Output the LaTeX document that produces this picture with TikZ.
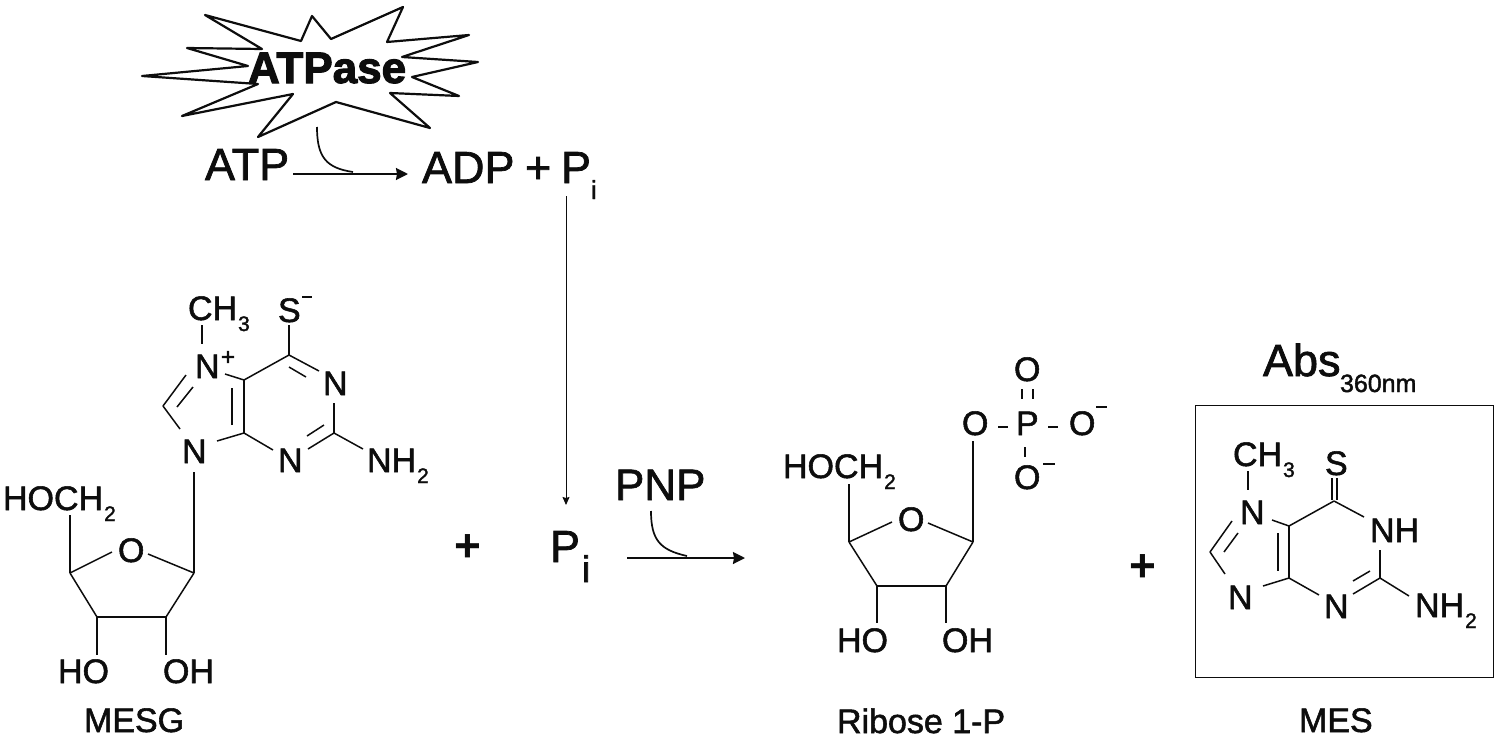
\documentclass[tikz,border=0pt]{standalone}
\usepackage{fontspec}
\usetikzlibrary{arrows.meta}
\setmainfont{Liberation Sans}[UprightFeatures={FakeBold=1.6}]
\newfontfamily\heavyfont{Liberation Sans}[BoldFeatures={FakeBold=2.5}]
\definecolor{ink}{HTML}{0D0D0D}
\newcommand{\sbs}[2][-11pt]{\kern1pt\raisebox{#1}{\fontsize{21}{21}\selectfont #2}}
\tikzset{
  lbl/.style={anchor=base west,inner sep=0pt,outer sep=0pt,text=ink},
  atom/.style={lbl,font=\fontsize{34}{34}\selectfont},
  big/.style={lbl,font=\fontsize{45}{45}\selectfont},
  bond/.style={draw=ink,line width=1.5pt},
  rxn/.style={draw=ink,line width=1.9pt,-{Stealth[length=12pt,width=12pt,inset=1pt]}},
  thinrxn/.style={draw=ink,line width=1pt,-{Stealth[length=8pt,width=7pt,inset=1pt]}},
  enz/.style={draw=ink,line width=1.7pt},
  neg/.style={draw=ink,line width=2pt},
  plussign/.style={lbl,anchor=center,font=\fontsize{46}{46}\selectfont\bfseries},
}
\begin{document}
\begin{tikzpicture}[x=1pt,y=-1pt]
\useasboundingbox (0,0) rectangle (1500,739);
% ---------- ATPase burst
\draw[draw=ink,fill=white,line width=2.2pt,line join=round]
  (205,15)--(301,41)--(312,16)--(331,39)--(403,7)--(387,42)--(469,35)--(402,57)--(478,62)
  --(412,77)--(459,96)--(390,93)--(430,128)--(336,102)--(258,137)--(293,94)--(182,116)
  --(258,84)--(142,76)--(248,66)--(187,48)--(262,49)--cycle;
\node[lbl,font=\fontsize{44}{44}\heavyfont\bfseries] (atpase) at (248,83) {ATPase};
% ---------- top reaction
\node[big] (atp) at (205,180) {ATP};
\node[big] (adp) at (422,183) {ADP};
\node[big] (plus0) at (525,183) {+};
\node[big] (pia) at (561,183) {P};
\node[lbl,font=\fontsize{26}{26}\selectfont] (pias) at (591,199) {i};
\coordinate (atpR) at (293,174);
\coordinate (adpL) at (408,174);
\coordinate (atpCa) at (317,127);
\coordinate (atpCb) at (353,172);
\draw[rxn] (atpR) -- (adpL);
\draw[enz] (atpCa) .. controls (317,157) and (326,168) .. (atpCb);
\coordinate (pidown) at (566,196);
\coordinate (piup) at (566,505);
\draw[thinrxn] (pidown) -- (piup);
% ---------- lower reaction
\node[big] (pib) at (550,562) {P};
\node[lbl,font=\fontsize{37}{37}\selectfont] (pibs) at (582,582) {i};
\node[lbl,font=\fontsize{44}{44}\selectfont] (pnp) at (615,500) {PNP};
\coordinate (rxnL) at (627,558);
\coordinate (rxnR) at (745,558);
\coordinate (pnpA) at (651,511);
\coordinate (pnpB) at (687,556);
\draw[rxn] (rxnL) -- (rxnR);
\draw[enz] (pnpA) .. controls (651,540) and (660,550) .. (pnpB);
\node[plussign] (plusa) at (468,548) {+};
\node[plussign] (plusb) at (1143,568) {+};
% ---------- MESG
\node[atom] (mch) at (188,320) {CH\sbs{3}};
\node[atom] (ms) at (278,322) {S};
\coordinate (msmA) at (302,297);\coordinate (msmB) at (312,297);
\draw[neg] (msmA)--(msmB);
\node[atom] (mn7) at (195,378) {N};
\node[lbl,font=\fontsize{24}{24}\selectfont] (mplus) at (221,365) {+};
\node[atom] (mn1) at (323,395) {N};
\node[atom] (mn3) at (278,472) {N};
\node[atom] (mn9) at (182,463) {N};
\node[atom] (mnh) at (367,472) {NH\sbs{2}};
\node[atom] (mho) at (3,510) {HOCH\sbs{2}};
\node[atom] (mo) at (118,562) {O};
\node[atom] (mhoa) at (58,683) {HO};
\node[atom] (moh) at (163,683) {OH};
\node[atom] (mesg) at (84,732) {MESG};
\coordinate (a1) at (202,325);\coordinate (a2) at (202,344);
\coordinate (a3) at (289,325);\coordinate (a4) at (289,355);
\coordinate (a5) at (319,371);\coordinate (a6) at (289,367);\coordinate (a7) at (306,377);
\coordinate (a8) at (334,403);\coordinate (a9) at (334,433);
\coordinate (a10) at (308,449);\coordinate (a11) at (324,425);\coordinate (a12) at (307,436);
\coordinate (a13) at (273,450);\coordinate (a14) at (244,433);\coordinate (a15) at (244,380);
\coordinate (a16) at (232,425);\coordinate (a17) at (232,388);
\coordinate (a18) at (225,374);\coordinate (a19) at (186,375);\coordinate (a20) at (163,406);
\coordinate (a21) at (193,387);\coordinate (a22) at (177,407);\coordinate (a23) at (180,429);
\coordinate (a24) at (217,441);\coordinate (a25) at (194,472);\coordinate (a26) at (194,573);
\coordinate (a27) at (363,449);
\coordinate (a28) at (70,573);\coordinate (a29) at (70,515);\coordinate (a30) at (112,552);
\coordinate (a31) at (148,554);\coordinate (a32) at (166,617);\coordinate (a33) at (97,617);
\coordinate (a34) at (97,655);\coordinate (a35) at (166,655);
\draw[bond] (a1)--(a2);
\draw[bond] (a3)--(a4);
\draw[bond] (a4)--(a5);
\draw[bond] (a6)--(a7);
\draw[bond] (a8)--(a9);
\draw[bond] (a9)--(a10);
\draw[bond] (a11)--(a12);
\draw[bond] (a13)--(a14);
\draw[bond] (a14)--(a15);
\draw[bond] (a16)--(a17);
\draw[bond] (a15)--(a4);
\draw[bond] (a15)--(a18);
\draw[bond] (a19)--(a20);
\draw[bond] (a21)--(a22);
\draw[bond] (a20)--(a23);
\draw[bond] (a24)--(a14);
\draw[bond] (a25)--(a26);
\draw[bond] (a9)--(a27);
\draw[bond] (a28)--(a29);
\draw[bond] (a28)--(a30);
\draw[bond] (a31)--(a26);
\draw[bond] (a26)--(a32);
\draw[bond] (a32)--(a33);
\draw[bond] (a33)--(a28);
\draw[bond] (a33)--(a34);
\draw[bond] (a32)--(a35);
% ---------- Ribose 1-P
\node[atom] (ro1) at (1014,381) {O};
\node[atom] (rp) at (1016,435) {P};
\node[atom] (ro2) at (962,435) {O};
\node[atom] (ro3) at (1069,435) {O};
\node[atom] (ro4) at (1014,489) {O};
\node[atom] (rho) at (783,478) {HOCH\sbs{2}};
\node[atom] (rox) at (898,531) {O};
\node[atom] (rhoa) at (837,652) {HO};
\node[atom] (roh) at (942,652) {OH};
\node[atom] (rib) at (837,733) {Ribose 1-P};
\coordinate (b1) at (1022,389);\coordinate (b2) at (1022,399);
\coordinate (b3) at (1033,389);\coordinate (b4) at (1033,399);
\coordinate (b5) at (998,427);\coordinate (b6) at (1008,427);
\coordinate (b7) at (1048,427);\coordinate (b8) at (1058,427);
\coordinate (b9) at (1025,447);\coordinate (b10) at (1025,457);
\coordinate (b11) at (1096,407);\coordinate (b12) at (1107,407);
\coordinate (b13) at (1043,464);\coordinate (b14) at (1055,464);
\coordinate (b15) at (973,441);\coordinate (b16) at (973,542);
\coordinate (b17) at (849,542);\coordinate (b18) at (849,484);
\coordinate (b19) at (892,522);\coordinate (b20) at (928,523);
\coordinate (b21) at (946,586);\coordinate (b22) at (877,586);
\coordinate (b23) at (877,623);\coordinate (b24) at (946,623);
\draw[neg] (b1)--(b2);
\draw[neg] (b3)--(b4);
\draw[neg] (b5)--(b6);
\draw[neg] (b7)--(b8);
\draw[neg] (b9)--(b10);
\draw[neg] (b11)--(b12);
\draw[neg] (b13)--(b14);
\draw[bond] (b15)--(b16);
\draw[bond] (b17)--(b18);
\draw[bond] (b17)--(b19);
\draw[bond] (b20)--(b16);
\draw[bond] (b16)--(b21);
\draw[bond] (b21)--(b22);
\draw[bond] (b22)--(b17);
\draw[bond] (b22)--(b23);
\draw[bond] (b21)--(b24);
% ---------- MES
\node[draw=ink,line width=1.3pt,fill=none,minimum width=298pt,minimum height=272pt,inner sep=0pt,anchor=north west] (box) at (1195,405) {};
\node[big] (abs) at (1263,376) {Abs};
\node[lbl,font=\fontsize{25}{25}\selectfont] (absb) at (1340,392) {360nm};
\node[atom] (sch) at (1233,466) {CH\sbs{3}};
\node[atom] (ss) at (1325,475) {S};
\node[atom] (sn7) at (1240,524) {N};
\node[atom] (snh) at (1370,542) {NH};
\node[atom] (sn3) at (1324,618) {N};
\node[atom] (sn9) at (1228,609) {N};
\node[atom] (snh2) at (1415,617) {NH\sbs{2}};
\node[atom] (mes) at (1299,732) {MES};
\coordinate (c1) at (1248,471);\coordinate (c2) at (1248,490);
\coordinate (c3) at (1332,478);\coordinate (c4) at (1332,500);
\coordinate (c5) at (1337,478);\coordinate (c6) at (1337,500);
\coordinate (c7) at (1334,501);\coordinate (c8) at (1289,526);\coordinate (c9) at (1364,517);
\coordinate (c10) at (1380,550);\coordinate (c11) at (1380,578);
\coordinate (c12) at (1353,594);\coordinate (c13) at (1370,571);\coordinate (c14) at (1353,581);
\coordinate (c15) at (1319,595);\coordinate (c16) at (1289,578);
\coordinate (c17) at (1278,533);\coordinate (c18) at (1278,571);
\coordinate (c19) at (1272,520);\coordinate (c20) at (1232,521);\coordinate (c21) at (1210,552);
\coordinate (c22) at (1238,533);\coordinate (c23) at (1224,552);\coordinate (c24) at (1225,574);
\coordinate (c25) at (1263,586);\coordinate (c26) at (1409,596);
\draw[bond] (c1)--(c2);
\draw[bond] (c3)--(c4);
\draw[bond] (c5)--(c6);
\draw[bond] (c7)--(c8);
\draw[bond] (c7)--(c9);
\draw[bond] (c10)--(c11);
\draw[bond] (c11)--(c12);
\draw[bond] (c13)--(c14);
\draw[bond] (c15)--(c16);
\draw[bond] (c8)--(c16);
\draw[bond] (c17)--(c18);
\draw[bond] (c8)--(c19);
\draw[bond] (c20)--(c21);
\draw[bond] (c22)--(c23);
\draw[bond] (c21)--(c24);
\draw[bond] (c25)--(c16);
\draw[bond] (c11)--(c26);
\end{tikzpicture}
\end{document}
